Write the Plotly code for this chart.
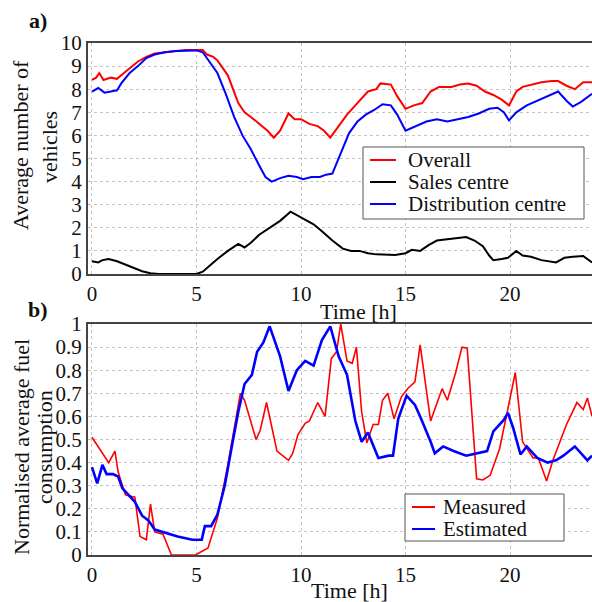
import plotly.graph_objects as go

# ---------------- Panel a) data ----------------
overall_t = [0, 0.2, 0.35, 0.55, 0.9, 1.2, 1.4, 1.8, 2.2, 2.6, 3.0, 3.5, 4.0, 4.5, 5.0, 5.3, 5.5, 5.8,
             6.0, 6.5, 7.0, 7.3, 7.6, 8.0, 8.4, 8.7, 9.0, 9.4, 9.7, 10.0, 10.4, 10.8, 11.1, 11.4, 11.8,
             12.2, 12.6, 12.9, 13.2, 13.6, 13.8, 14.3, 14.6, 15.0, 15.4, 15.8, 16.2, 16.6, 17.2, 17.6,
             18.0, 18.4, 18.8, 19.2, 19.6, 19.95, 20.3, 20.6, 21.0, 21.5, 22.0, 22.3, 22.7, 23.1, 23.5, 23.92]
overall_v = [8.4, 8.5, 8.7, 8.4, 8.5, 8.45, 8.6, 8.9, 9.2, 9.4, 9.55, 9.6, 9.65, 9.7, 9.7, 9.7, 9.5, 9.4,
             9.25, 8.6, 7.4, 7.0, 6.8, 6.5, 6.2, 5.9, 6.2, 6.95, 6.7, 6.7, 6.5, 6.4, 6.2, 5.9, 6.4,
             6.9, 7.3, 7.6, 7.9, 8.0, 8.25, 8.2, 7.7, 7.15, 7.3, 7.4, 7.9, 8.1, 8.1, 8.2,
             8.25, 8.15, 7.9, 7.75, 7.55, 7.3, 7.9, 8.1, 8.2, 8.3, 8.35, 8.35, 8.15, 8.0, 8.3, 8.3]

sales_t = [0, 0.3, 0.5, 0.8, 1.2, 1.6, 2.0, 2.4, 2.8, 3.2, 4.0, 5.0, 5.3, 5.6, 6.0, 6.5, 7.0, 7.3, 7.6,
           8.0, 8.5, 9.0, 9.5, 9.8, 10.2, 10.6, 11.0, 11.5, 12.0, 12.4, 12.8, 13.2, 13.6, 14.0, 14.5,
           15.0, 15.3, 15.7, 16.1, 16.5, 17.0, 17.5, 17.9, 18.3, 18.7, 19.0, 19.2, 19.6, 19.9, 20.3,
           20.6, 21.0, 21.5, 22.2, 22.6, 23.0, 23.5, 23.92]
sales_v = [0.55, 0.5, 0.6, 0.65, 0.55, 0.4, 0.25, 0.12, 0.03, 0.0, 0.0, 0.0, 0.1, 0.35, 0.65, 1.0, 1.3, 1.15, 1.35,
           1.7, 2.0, 2.3, 2.7, 2.55, 2.35, 2.15, 1.85, 1.45, 1.1, 1.0, 1.0, 0.9, 0.85, 0.85, 0.82,
           0.9, 1.05, 1.0, 1.25, 1.45, 1.5, 1.55, 1.6, 1.45, 1.2, 0.8, 0.6, 0.65, 0.7, 1.0,
           0.8, 0.75, 0.6, 0.5, 0.7, 0.75, 0.78, 0.5]

distr_t = [0, 0.3, 0.6, 1.0, 1.2, 1.4, 1.8, 2.2, 2.6, 3.0, 3.5, 4.0, 4.5, 5.0, 5.3, 5.6, 6.0, 6.4, 6.8,
           7.2, 7.6, 8.0, 8.3, 8.6, 9.0, 9.4, 9.8, 10.1, 10.5, 10.9, 11.2, 11.5, 11.9, 12.3, 12.7, 13.1,
           13.5, 13.9, 14.3, 14.6, 15.0, 15.5, 16.0, 16.5, 17.0, 17.5, 18.0, 18.5, 19.0, 19.4, 19.7,
           19.95, 20.3, 20.8, 21.3, 21.8, 22.3, 22.7, 23.0, 23.4, 23.92]
distr_v = [7.9, 8.05, 7.85, 7.9, 7.95, 8.25, 8.7, 9.0, 9.35, 9.5, 9.6, 9.65, 9.68, 9.68, 9.6, 9.2, 8.7, 7.8, 6.8,
           6.0, 5.4, 4.7, 4.2, 4.0, 4.15, 4.25, 4.2, 4.1, 4.2, 4.2, 4.3, 4.35, 5.2, 6.1, 6.6, 6.9,
           7.1, 7.35, 7.3, 6.9, 6.2, 6.4, 6.6, 6.7, 6.6, 6.7, 6.8, 6.95, 7.15, 7.2, 7.0,
           6.65, 7.0, 7.3, 7.5, 7.7, 7.9, 7.5, 7.25, 7.45, 7.8]

# ---------------- Panel b) data ----------------
meas_t = [0, 0.8, 1.1, 1.25, 1.6, 2.05, 2.3, 2.6, 2.8, 3.0, 3.4, 3.8, 4.95, 5.55, 6.0, 6.5, 7.1, 7.3,
          7.85, 8.05, 8.35, 8.85, 9.4, 9.6, 9.85, 10.2, 10.4, 10.8, 11.15, 11.45, 11.7, 11.9, 12.2,
          12.45, 12.65, 12.9, 13.15, 13.45, 13.7, 13.9, 14.15, 14.45, 14.8, 15.1, 15.45, 15.7, 16.2,
          16.75, 17.0, 17.4, 17.7, 17.95, 18.4, 18.7, 19.05, 19.5, 19.9, 20.25, 20.6, 21.1, 21.35,
          21.75, 22.05, 22.7, 23.2, 23.5, 23.7, 23.92]
meas_v = [0.51, 0.40, 0.45, 0.36, 0.26, 0.25, 0.08, 0.066, 0.22, 0.10, 0.09, 0.0, 0.0, 0.03, 0.16, 0.39,
          0.70, 0.67, 0.50, 0.54, 0.66, 0.45, 0.41, 0.44, 0.52, 0.57, 0.58, 0.66, 0.60, 0.85, 0.88,
          1.0, 0.84, 0.83, 0.90, 0.62, 0.485, 0.565, 0.565, 0.67, 0.70, 0.59, 0.685, 0.72, 0.75,
          0.91, 0.58, 0.72, 0.67, 0.79, 0.90, 0.895, 0.33, 0.325, 0.345, 0.46, 0.635, 0.79, 0.49,
          0.42, 0.42, 0.32, 0.41, 0.565, 0.66, 0.63, 0.68, 0.60]

est_t = [0, 0.25, 0.5, 0.7, 1.0, 1.25, 1.45, 1.75, 2.05, 2.4, 2.7, 3.0, 3.5, 4.1, 4.8, 5.25, 5.4, 5.7,
         6.0, 6.35, 6.7, 7.0, 7.3, 7.65, 7.9, 8.2, 8.5, 9.0, 9.4, 9.8, 10.2, 10.6, 11.0, 11.4, 11.8,
         12.2, 12.6, 12.9, 13.2, 13.7, 14.2, 14.4, 14.65, 15.05, 15.45, 15.7, 16.2, 16.4, 16.8, 17.3,
         17.9, 18.4, 18.9, 19.2, 19.7, 19.9, 20.15, 20.5, 20.8, 21.3, 21.8, 22.2, 22.55, 23.1, 23.7, 23.92]
est_v = [0.38, 0.31, 0.39, 0.35, 0.35, 0.34, 0.29, 0.26, 0.23, 0.17, 0.15, 0.11, 0.095, 0.08, 0.066,
         0.066, 0.125, 0.125, 0.175, 0.3, 0.475, 0.62, 0.74, 0.78, 0.88, 0.92, 0.99, 0.86, 0.71, 0.80,
         0.84, 0.82, 0.93, 0.99, 0.86, 0.78, 0.58, 0.49, 0.53, 0.42, 0.43, 0.43, 0.59, 0.69, 0.65,
         0.60, 0.49, 0.44, 0.47, 0.45, 0.43, 0.44, 0.45, 0.535, 0.585, 0.615, 0.55, 0.435, 0.47,
         0.42, 0.40, 0.41, 0.43, 0.47, 0.41, 0.43]

x_ticks = [0, 5, 10, 15, 20]
ya_ticks = list(range(0, 11))
yb_ticks = [0, 0.1, 0.2, 0.3, 0.4, 0.5, 0.6, 0.7, 0.8, 0.9, 1]
yb_labels = ["0", "0.1", "0.2", "0.3", "0.4", "0.5", "0.6", "0.7", "0.8", "0.9", "1"]

FONT = "Liberation Serif"
W, H = 592, 602
ML = 88
PW = W - ML

RED, BLUE, BLACK = "#ff0000", "#0000ff", "#000000"

series_a = [("Overall", overall_t, overall_v, RED, 2),
            ("Sales centre", sales_t, sales_v, BLACK, 2),
            ("Distribution centre", distr_t, distr_v, BLUE, 2)]
series_b = [("Measured", meas_t, meas_v, RED, 1.6),
            ("Estimated", est_t, est_v, BLUE, 2.6)]

fig = go.Figure()
for name, t, v, c, w in series_a:
    fig.add_trace(go.Scatter(x=t, y=v, name=name, mode="lines", showlegend=False,
                             line=dict(color=c, width=w), xaxis="x", yaxis="y"))
for name, t, v, c, w in series_b:
    fig.add_trace(go.Scatter(x=t, y=v, name=name, mode="lines", showlegend=False,
                             line=dict(color=c, width=w), xaxis="x2", yaxis="y2"))

def px_y(p):
    return 1 - p / H

def px_x(p):
    return (p - ML) / PW

axis_common = dict(showline=True, linecolor="#444444", linewidth=2, showgrid=True,
                   gridcolor="#c4c4c4", griddash="dot", gridwidth=1, zeroline=False,
                   ticks="", automargin=False,
                   tickfont=dict(family=FONT, size=21, color="#111"))

fig.update_layout(
    width=W, height=H,
    margin=dict(l=ML, r=0, t=0, b=0),
    paper_bgcolor="white", plot_bgcolor="white",
    font=dict(family=FONT, size=21, color="#111"),
    xaxis=dict(**axis_common, domain=[0, 1], range=[-0.19, 23.92], tickvals=x_ticks,
               mirror=True, anchor="y"),
    yaxis=dict(**axis_common, domain=[px_y(274), px_y(43)], range=[0, 10], tickvals=ya_ticks,
               anchor="x"),
    xaxis2=dict(**axis_common, domain=[0, 1], range=[-0.19, 23.92], tickvals=x_ticks,
                mirror=True, anchor="y2"),
    yaxis2=dict(**axis_common, domain=[px_y(555), px_y(324)], range=[0, 1], tickvals=yb_ticks,
                ticktext=yb_labels, anchor="x2"),
    showlegend=False,
)

ann = [
    dict(text="<b>a)</b>", x=px_x(38), y=px_y(21)),
    dict(text="<b>b)</b>", x=px_x(38), y=px_y(309)),
    dict(text="Time [h]", x=px_x(358), y=px_y(311)),
    dict(text="Time [h]", x=px_x(349), y=px_y(590)),
    dict(text="Average number of", x=px_x(21), y=px_y(145), textangle=-90),
    dict(text="vehicles", x=px_x(49), y=px_y(147), textangle=-90),
    dict(text="Normalised average fuel", x=px_x(21), y=px_y(447), textangle=-90),
    dict(text="consumption", x=px_x(44), y=px_y(447), textangle=-90),
]
for a in ann:
    fig.add_annotation(xref="paper", yref="paper", xanchor="center", yanchor="middle",
                       showarrow=False, font=dict(family=FONT, size=22, color="#111"), **a)

# Hand-built legends (box, line samples, labels) to match the reference's tight spacing
def add_legend(series, box, line_x0, line_x1, text_x, rows, fsize):
    x0, y0, x1, y1 = box
    fig.add_shape(type="rect", xref="paper", yref="paper",
                  x0=px_x(x0), x1=px_x(x1), y0=px_y(y1), y1=px_y(y0),
                  line=dict(color="#555", width=1), fillcolor="white", layer="above")
    for (name, _, _, c, _), ry in zip(series, rows):
        fig.add_shape(type="line", xref="paper", yref="paper",
                      x0=px_x(line_x0), x1=px_x(line_x1), y0=px_y(ry), y1=px_y(ry),
                      line=dict(color=c, width=2), layer="above")
        fig.add_annotation(xref="paper", yref="paper", x=px_x(text_x), y=px_y(ry),
                           xanchor="left", yanchor="middle", showarrow=False, text=name,
                           font=dict(family=FONT, size=fsize, color="#111"))

add_legend(series_a, (363, 147, 584, 219), 370, 396, 406, [160, 182, 204], 21)
add_legend(series_b, (405, 494, 564, 541), 412, 435, 441, [507, 529], 21)

fig.write_html("out.html", config={"displayModeBar": False},
               post_script="document.body.style.margin='0';document.body.style.overflow='hidden';")
